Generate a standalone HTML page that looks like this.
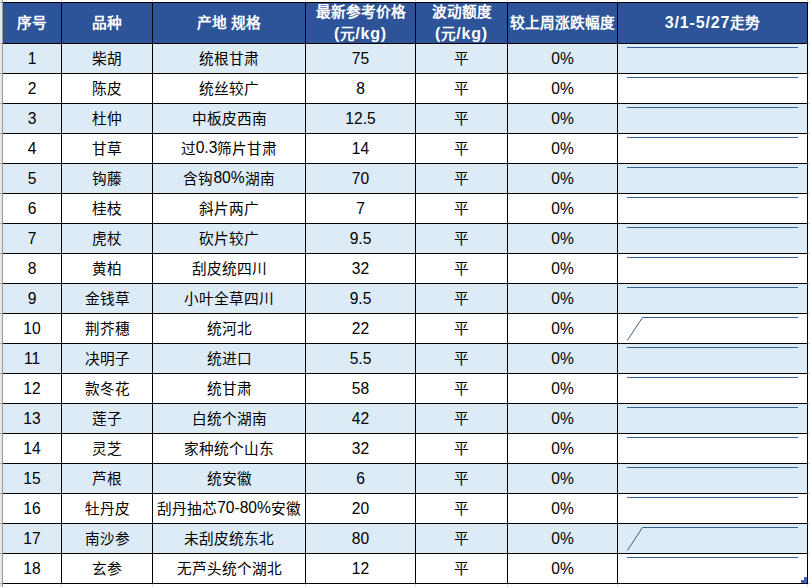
<!DOCTYPE html>
<html lang="zh-CN">
<head>
<meta charset="utf-8">
<title>药材价格表</title>
<style>
html,body{margin:0;padding:0;background:#fff;}
body{width:810px;height:587px;position:relative;overflow:hidden;
  font-family:"Liberation Sans",sans-serif;font-size:14.67px;color:#000;}
.rowhdr{position:absolute;left:0;top:0;width:2px;height:587px;background:#e6e6e6;}
.rowhdr-edge{position:absolute;left:2px;top:0;width:1px;height:587px;background:#999;}
.tick{position:absolute;left:0;width:2px;height:1px;background:#a9a9a9;}
.gl{position:absolute;background:#d9d9d9;}
.grid{position:absolute;left:3px;top:2px;width:804px;height:580px;
  padding:1px 1px 1px 0;background:#000;
  display:grid;gap:1px;
  grid-template-columns:58px 90px 152px 109px 91px 109px 189px;
  grid-template-rows:40px repeat(18,29px);}
.grid>div{display:flex;align-items:center;justify-content:center;text-align:center;
  white-space:nowrap;overflow:hidden;position:relative;}
.h{background:#2d5499;color:#fff;font-weight:bold;line-height:21px;}
.a{background:#ddebf7;}
.u{padding-bottom:2px;box-sizing:border-box;}
.l{font-size:16px;letter-spacing:0.85px;}
.n{font-size:15.6px;}
.b{background:#fff;}
.sp{position:absolute;left:0;top:0;width:189px;height:29px;}
.sp path{fill:none;stroke:#376092;stroke-width:1;}
.handle{position:absolute;background:#4461c0;}
</style>
</head>
<body>
<div class="rowhdr"></div><div class="rowhdr-edge"></div>
<div class="tick" style="top:2px"></div><div class="tick" style="top:43px"></div><div class="tick" style="top:73px"></div><div class="tick" style="top:103px"></div><div class="tick" style="top:133px"></div><div class="tick" style="top:163px"></div><div class="tick" style="top:193px"></div><div class="tick" style="top:223px"></div><div class="tick" style="top:253px"></div><div class="tick" style="top:283px"></div><div class="tick" style="top:313px"></div><div class="tick" style="top:343px"></div><div class="tick" style="top:373px"></div><div class="tick" style="top:403px"></div><div class="tick" style="top:433px"></div><div class="tick" style="top:463px"></div><div class="tick" style="top:493px"></div><div class="tick" style="top:523px"></div><div class="tick" style="top:553px"></div><div class="tick" style="top:583px"></div>
<div class="gl" style="left:61px;top:0;width:1px;height:2px"></div><div class="gl" style="left:61px;top:584px;width:1px;height:3px"></div><div class="gl" style="left:152px;top:0;width:1px;height:2px"></div><div class="gl" style="left:152px;top:584px;width:1px;height:3px"></div><div class="gl" style="left:305px;top:0;width:1px;height:2px"></div><div class="gl" style="left:305px;top:584px;width:1px;height:3px"></div><div class="gl" style="left:415px;top:0;width:1px;height:2px"></div><div class="gl" style="left:415px;top:584px;width:1px;height:3px"></div><div class="gl" style="left:507px;top:0;width:1px;height:2px"></div><div class="gl" style="left:507px;top:584px;width:1px;height:3px"></div><div class="gl" style="left:617px;top:0;width:1px;height:2px"></div><div class="gl" style="left:617px;top:584px;width:1px;height:3px"></div><div class="gl" style="left:807px;top:0;width:1px;height:2px"></div><div class="gl" style="left:807px;top:584px;width:1px;height:3px"></div><div class="gl" style="left:808px;top:2px;width:2px;height:1px"></div><div class="gl" style="left:808px;top:43px;width:2px;height:1px"></div><div class="gl" style="left:808px;top:73px;width:2px;height:1px"></div><div class="gl" style="left:808px;top:103px;width:2px;height:1px"></div><div class="gl" style="left:808px;top:133px;width:2px;height:1px"></div><div class="gl" style="left:808px;top:163px;width:2px;height:1px"></div><div class="gl" style="left:808px;top:193px;width:2px;height:1px"></div><div class="gl" style="left:808px;top:223px;width:2px;height:1px"></div><div class="gl" style="left:808px;top:253px;width:2px;height:1px"></div><div class="gl" style="left:808px;top:283px;width:2px;height:1px"></div><div class="gl" style="left:808px;top:313px;width:2px;height:1px"></div><div class="gl" style="left:808px;top:343px;width:2px;height:1px"></div><div class="gl" style="left:808px;top:373px;width:2px;height:1px"></div><div class="gl" style="left:808px;top:403px;width:2px;height:1px"></div><div class="gl" style="left:808px;top:433px;width:2px;height:1px"></div><div class="gl" style="left:808px;top:463px;width:2px;height:1px"></div><div class="gl" style="left:808px;top:493px;width:2px;height:1px"></div><div class="gl" style="left:808px;top:523px;width:2px;height:1px"></div><div class="gl" style="left:808px;top:553px;width:2px;height:1px"></div><div class="gl" style="left:808px;top:583px;width:2px;height:1px"></div>
<div class="grid">
<div class="h"><span>序号</span></div><div class="h"><span>品种</span></div><div class="h"><span>产地 规格</span></div><div class="h"><span>最新参考价格<br><span class="l">(</span>元<span class="l">/kg)</span></span></div><div class="h"><span>波动额度<br><span class="l">(</span>元<span class="l">/kg)</span></span></div><div class="h"><span>较上周涨跌幅度</span></div><div class="h"><span><span class="l">3/1-5/27</span>走势</span></div>
<div class="a n">1</div><div class="a u">柴胡</div><div class="a u">统根甘肃</div><div class="a n">75</div><div class="a u">平</div><div class="a n">0%</div><div class="a"><svg class="sp" viewBox="0 0 189 29"><path d="M9 3.5 L180 3.5"/></svg></div>
<div class="b n">2</div><div class="b u">陈皮</div><div class="b u">统丝较广</div><div class="b n">8</div><div class="b u">平</div><div class="b n">0%</div><div class="b"><svg class="sp" viewBox="0 0 189 29"><path d="M9 3.5 L180 3.5"/></svg></div>
<div class="a n">3</div><div class="a u">杜仲</div><div class="a u">中板皮西南</div><div class="a n">12.5</div><div class="a u">平</div><div class="a n">0%</div><div class="a"><svg class="sp" viewBox="0 0 189 29"><path d="M9 3.5 L180 3.5"/></svg></div>
<div class="b n">4</div><div class="b u">甘草</div><div class="b u">过<span class="n">0.3</span>筛片甘肃</div><div class="b n">14</div><div class="b u">平</div><div class="b n">0%</div><div class="b"><svg class="sp" viewBox="0 0 189 29"><path d="M9 3.5 L180 3.5"/></svg></div>
<div class="a n">5</div><div class="a u">钩藤</div><div class="a u">含钩<span class="n">80%</span>湖南</div><div class="a n">70</div><div class="a u">平</div><div class="a n">0%</div><div class="a"><svg class="sp" viewBox="0 0 189 29"><path d="M9 3.5 L180 3.5"/></svg></div>
<div class="b n">6</div><div class="b u">桂枝</div><div class="b u">斜片两广</div><div class="b n">7</div><div class="b u">平</div><div class="b n">0%</div><div class="b"><svg class="sp" viewBox="0 0 189 29"><path d="M9 3.5 L180 3.5"/></svg></div>
<div class="a n">7</div><div class="a u">虎杖</div><div class="a u">砍片较广</div><div class="a n">9.5</div><div class="a u">平</div><div class="a n">0%</div><div class="a"><svg class="sp" viewBox="0 0 189 29"><path d="M9 3.5 L180 3.5"/></svg></div>
<div class="b n">8</div><div class="b u">黄柏</div><div class="b u">刮皮统四川</div><div class="b n">32</div><div class="b u">平</div><div class="b n">0%</div><div class="b"><svg class="sp" viewBox="0 0 189 29"><path d="M9 3.5 L180 3.5"/></svg></div>
<div class="a n">9</div><div class="a u">金钱草</div><div class="a u">小叶全草四川</div><div class="a n">9.5</div><div class="a u">平</div><div class="a n">0%</div><div class="a"><svg class="sp" viewBox="0 0 189 29"><path d="M9 3.5 L180 3.5"/></svg></div>
<div class="b n">10</div><div class="b u">荆芥穗</div><div class="b u">统河北</div><div class="b n">22</div><div class="b u">平</div><div class="b n">0%</div><div class="b"><svg class="sp" viewBox="0 0 189 29"><path d="M9.3 26.5 L24.5 3.5 L180 3.5"/></svg></div>
<div class="a n">11</div><div class="a u">决明子</div><div class="a u">统进口</div><div class="a n">5.5</div><div class="a u">平</div><div class="a n">0%</div><div class="a"><svg class="sp" viewBox="0 0 189 29"><path d="M9 3.5 L180 3.5"/></svg></div>
<div class="b n">12</div><div class="b u">款冬花</div><div class="b u">统甘肃</div><div class="b n">58</div><div class="b u">平</div><div class="b n">0%</div><div class="b"><svg class="sp" viewBox="0 0 189 29"><path d="M9 3.5 L180 3.5"/></svg></div>
<div class="a n">13</div><div class="a u">莲子</div><div class="a u">白统个湖南</div><div class="a n">42</div><div class="a u">平</div><div class="a n">0%</div><div class="a"><svg class="sp" viewBox="0 0 189 29"><path d="M9 3.5 L180 3.5"/></svg></div>
<div class="b n">14</div><div class="b u">灵芝</div><div class="b u">家种统个山东</div><div class="b n">32</div><div class="b u">平</div><div class="b n">0%</div><div class="b"><svg class="sp" viewBox="0 0 189 29"><path d="M9 3.5 L180 3.5"/></svg></div>
<div class="a n">15</div><div class="a u">芦根</div><div class="a u">统安徽</div><div class="a n">6</div><div class="a u">平</div><div class="a n">0%</div><div class="a"><svg class="sp" viewBox="0 0 189 29"><path d="M9 3.5 L180 3.5"/></svg></div>
<div class="b n">16</div><div class="b u">牡丹皮</div><div class="b u">刮丹抽芯<span class="n">70-80%</span>安徽</div><div class="b n">20</div><div class="b u">平</div><div class="b n">0%</div><div class="b"><svg class="sp" viewBox="0 0 189 29"><path d="M9 3.5 L180 3.5"/></svg></div>
<div class="a n">17</div><div class="a u">南沙参</div><div class="a u">未刮皮统东北</div><div class="a n">80</div><div class="a u">平</div><div class="a n">0%</div><div class="a"><svg class="sp" viewBox="0 0 189 29"><path d="M9.3 26.5 L24.5 3.5 L180 3.5"/></svg></div>
<div class="b n">18</div><div class="b u">玄参</div><div class="b u">无芦头统个湖北</div><div class="b n">12</div><div class="b u">平</div><div class="b n">0%</div><div class="b"><svg class="sp" viewBox="0 0 189 29"><path d="M9 3.5 L180 3.5"/></svg></div>
</div>
<div class="handle" style="left:804px;top:577px;width:3px;height:3px"></div><div class="handle" style="left:801px;top:580px;width:6px;height:3px"></div>
</body>
</html>
